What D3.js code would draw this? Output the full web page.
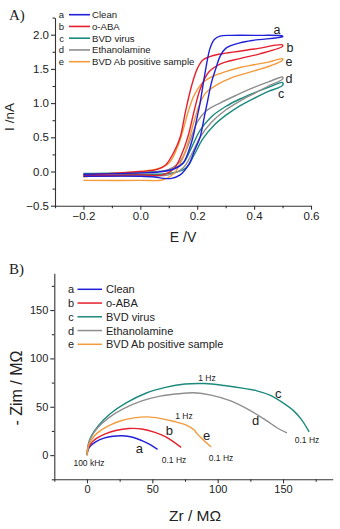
<!DOCTYPE html>
<html>
<head>
<meta charset="utf-8">
<script src="https://cdn.jsdelivr.net/npm/d3@7"></script>
<style>
  body { margin: 0; background: #fff; }
  svg { display: block; font-family: "Liberation Sans", Arial, sans-serif; }
</style>
</head>
<body>
<div class="container"></div>
<script>
// ---- data ----
const letters = ["a", "b", "c", "d", "e"]
const names = ["Clean", "o-ABA", "BVD virus", "Ethanolamine", "BVD Ab positive sample"]
const colours = ["#2020d8", "#e5202c", "#1b8a7c", "#8e8e8e", "#f29a3c"]

// CV, panel A: [E (V), I (nA)], forward branch then return branch
const cvA_fwd = [[-0.2,-0.04],[0,-0.02],[0.08,0],[0.12,0.04],[0.15,0.12],[0.17,0.3],[0.185,0.5],[0.2,0.8],[0.21,1.0],[0.23,1.5],[0.245,1.8],[0.26,1.93],[0.28,1.98],[0.32,1.99],[0.4,1.99],[0.5,1.98]]
const cvA_rev = [[0.5,1.97],[0.4,1.92],[0.35,1.88],[0.3,1.8],[0.28,1.68],[0.265,1.5],[0.25,1.3],[0.235,1.0],[0.225,0.8],[0.21,0.5],[0.19,0.3],[0.17,0.1],[0.14,-0.05],[0.11,-0.1],[0.08,-0.1],[0.05,-0.08],[0,-0.07],[-0.2,-0.07]]
const cvB_fwd = [[-0.2,-0.05],[0,0],[0.06,0.03],[0.09,0.1],[0.12,0.3],[0.14,0.5],[0.16,0.9],[0.18,1.25],[0.2,1.5],[0.22,1.63],[0.26,1.7],[0.3,1.73],[0.4,1.79],[0.5,1.85]]
const cvB_rev = [[0.5,1.83],[0.42,1.72],[0.35,1.65],[0.28,1.57],[0.24,1.45],[0.21,1.2],[0.19,0.9],[0.17,0.55],[0.15,0.3],[0.12,0.05],[0.08,-0.05],[0,-0.05],[-0.2,-0.07]]
const cvC_fwd = [[-0.2,-0.03],[0,-0.01],[0.1,0.02],[0.15,0.12],[0.18,0.35],[0.21,0.6],[0.25,0.8],[0.3,0.95],[0.35,1.06],[0.4,1.15],[0.45,1.23],[0.5,1.3]]
const cvC_rev = [[0.5,1.26],[0.45,1.17],[0.4,1.07],[0.35,0.96],[0.3,0.82],[0.26,0.68],[0.22,0.48],[0.19,0.25],[0.16,0.05],[0.1,-0.03],[0,-0.04],[-0.2,-0.05]]
const cvD_fwd = [[-0.2,-0.05],[0,-0.02],[0.1,0.03],[0.14,0.15],[0.17,0.4],[0.2,0.72],[0.23,0.88],[0.28,1.0],[0.34,1.12],[0.4,1.23],[0.45,1.31],[0.5,1.38]]
const cvD_rev = [[0.5,1.35],[0.45,1.25],[0.4,1.14],[0.35,1.03],[0.3,0.9],[0.25,0.72],[0.21,0.5],[0.18,0.25],[0.15,0.05],[0.1,-0.05],[0,-0.06],[-0.2,-0.07]]
const cvE_fwd = [[-0.2,-0.08],[-0.1,-0.03],[0,0],[0.06,0.04],[0.1,0.12],[0.13,0.35],[0.15,0.6],[0.17,0.9],[0.19,1.12],[0.22,1.3],[0.26,1.4],[0.3,1.46],[0.35,1.52],[0.4,1.56],[0.45,1.6],[0.5,1.65]]
const cvE_rev = [[0.5,1.63],[0.46,1.55],[0.4,1.47],[0.32,1.37],[0.27,1.27],[0.23,1.15],[0.21,1.0],[0.19,0.75],[0.17,0.45],[0.15,0.2],[0.12,-0.02],[0.08,-0.12],[0,-0.13],[-0.2,-0.13]]

// Nyquist, panel B: [Zr, -Zim] in MOhm
const nyA = [[0,0],[1,6],[3,10],[7,14],[13,17.5],[20,19.5],[27,20],[35,18.5],[42,15],[48,11],[54,6]]
const nyB = [[0,0],[1,7],[3,12],[7,17],[14,22],[22,25.5],[32,27.5],[42,27],[52,23.5],[60,19],[66,14],[72,8]]
const nyC = [[0,0],[1,11],[3,19],[9,31],[18,43],[30,54],[45,64],[60,70],[75,73.5],[90,74],[105,72],[120,69],[130,66.5],[140,62],[150,54],[158,46],[164,37],[170,24]]
const nyD = [[0,0],[1,10],[3,18],[8,28],[16,38],[28,48],[42,56],[56,61],[70,63.5],[82,64.5],[95,62],[110,56],[125,46],[137,36],[147,27],[153,23]]
const nyE = [[0,0],[1,9],[3,15],[8,23],[16,30],[26,35.5],[36,38.5],[46,39.5],[56,38],[66,35],[76,31],[82,26],[84,22.5],[88,17],[92,12],[95,8.5]]

const cvTicksX = [-0.2, 0.0, 0.2, 0.4, 0.6]
const cvTicksY = [-0.5, 0.0, 0.5, 1.0, 1.5, 2.0]
const nyTicksX = [0, 50, 100, 150]
const nyTicksY = [0, 50, 100, 150]

const wd = 340, ht = 529

const svg = d3.select(".container").append("svg")
  .attr("width", wd)
  .attr("height", ht)

// ---------- panel A ----------
const xA = d3.scaleLinear().domain([-0.3, 0.6]).range([55, 311])
const yA = d3.scaleLinear().domain([-0.5, 2.25]).range([205.7, 17.6])

function drawAxes(x, y, ticksX, ticksY, minorX, minorY, fmtX, fmtY, fs) {
  const gx = svg.append("g").attr("transform", "translate(0," + y.range()[0] + ")")
  gx.call(d3.axisBottom(x).tickValues(ticksX).tickFormat(fmtX).tickSize(4).tickPadding(2).tickSizeOuter(0))
  gx.append("g").call(d3.axisBottom(x).tickValues(minorX).tickFormat("").tickSize(2.5).tickSizeOuter(0))
    .select(".domain").remove()
  const gy = svg.append("g").attr("transform", "translate(" + x.range()[0] + ",0)")
  gy.call(d3.axisLeft(y).tickValues(ticksY).tickFormat(fmtY).tickSize(4).tickPadding(2).tickSizeOuter(0))
  gy.append("g").call(d3.axisLeft(y).tickValues(minorY).tickFormat("").tickSize(2.5).tickSizeOuter(0))
    .select(".domain").remove()
  gx.selectAll(".tick text").attr("font-size", fs)
  gy.selectAll(".tick text").attr("font-size", fs)
  svg.selectAll(".tick text").attr("fill", "#222")
    .attr("font-family", "Liberation Sans, Arial, sans-serif")
  svg.selectAll(".domain, .tick line").attr("stroke", "#333").attr("stroke-width", 1.1)
}

drawAxes(xA, yA, cvTicksX, cvTicksY,
  [-0.3, -0.1, 0.1, 0.3, 0.5], [-0.25, 0.25, 0.75, 1.25, 1.75, 2.25],
  d3.format(".1f"), d3.format(".1f"), 11.5)

const lineA = d3.line()
  .x((d) => xA(d[0]))
  .y((d) => yA(d[1]))
  .curve(d3.curveCatmullRom.alpha(0.5))

const cvs = [cvA_fwd.concat(cvA_rev), cvB_fwd.concat(cvB_rev), cvC_fwd.concat(cvC_rev),
             cvD_fwd.concat(cvD_rev), cvE_fwd.concat(cvE_rev)]
// draw in order c, d, e, b, a so blue is on top like the source
const orderA = [2, 3, 4, 1, 0]
orderA.forEach((i) => {
  svg.append("path")
    .attr("d", lineA(cvs[i]))
    .attr("fill", "none")
    .attr("stroke", colours[i])
    .attr("stroke-width", 1.4)
})

const labA = [[277, 34], [290, 52], [281, 98], [289, 83], [289, 66]]
letters.forEach((l, i) => {
  svg.append("text").attr("x", labA[i][0]).attr("y", labA[i][1])
    .attr("text-anchor", "middle").attr("font-size", 12.5).attr("fill", "#222").text(l)
})

// legend A
letters.forEach((l, i) => {
  const yy = 14.7 + i * 11.75
  svg.append("text").attr("x", 61.5).attr("y", yy + 3.5).attr("text-anchor", "middle")
    .attr("font-size", 9.5).attr("fill", "#222").text(l)
  svg.append("line").attr("x1", 69).attr("x2", 90).attr("y1", yy).attr("y2", yy)
    .attr("stroke", colours[i]).attr("stroke-width", 1.6)
  svg.append("text").attr("x", 92).attr("y", yy + 3.5)
    .attr("font-size", 9.6).attr("fill", "#222").text(names[i])
})

svg.append("text").attr("x", 9).attr("y", 20).attr("font-family", "Liberation Serif, serif")
  .attr("font-size", 15).attr("fill", "#222").text("A)")
svg.append("text").attr("transform", "translate(14,117) rotate(-90)")
  .attr("text-anchor", "middle").attr("font-size", 13.5).attr("fill", "#222").text("I /nA")
svg.append("text").attr("x", 183).attr("y", 242)
  .attr("text-anchor", "middle").attr("font-size", 14).attr("fill", "#222").text("E /V")

// ---------- panel B ----------
const xB = d3.scaleLinear().domain([-25, 188]).range([54.3, 332.7])
const yB = d3.scaleLinear().domain([-25, 188]).range([479.3, 273.3])

drawAxes(xB, yB, nyTicksX, nyTicksY,
  [-25, 25, 75, 125, 175], [-25, 25, 75, 125, 175],
  d3.format("d"), d3.format("d"), 11)

const lineB = d3.line()
  .x((d) => xB(d[0]))
  .y((d) => yB(d[1]))
  .curve(d3.curveCatmullRom.alpha(0.5))

const nys = [nyA, nyB, nyC, nyD, nyE]
nys.forEach((d, i) => {
  svg.append("path")
    .attr("d", lineB(d))
    .attr("fill", "none")
    .attr("stroke", colours[i])
    .attr("stroke-width", 1.4)
})

// legend B
letters.forEach((l, i) => {
  const yy = 289.3 + i * 13.75
  svg.append("text").attr("x", 71).attr("y", yy + 4).attr("text-anchor", "middle")
    .attr("font-size", 11).attr("fill", "#222").text(l)
  svg.append("line").attr("x1", 77.5).attr("x2", 102).attr("y1", yy).attr("y2", yy)
    .attr("stroke", colours[i]).attr("stroke-width", 1.5)
  svg.append("text").attr("x", 106).attr("y", yy + 4)
    .attr("font-size", 11).attr("fill", "#222").text(names[i])
})

// curve letters and frequency notes
const labB = [[139.3, 453], [169.3, 435], [278.3, 398], [255.7, 425], [206.7, 439.5]]
letters.forEach((l, i) => {
  svg.append("text").attr("x", labB[i][0]).attr("y", labB[i][1])
    .attr("text-anchor", "middle").attr("font-size", 13).attr("fill", "#222").text(l)
})
const notes = [["1 Hz", 207, 381], ["1 Hz", 184, 419], ["100 kHz", 89, 466],
               ["0.1 Hz", 174, 463], ["0.1 Hz", 221, 461], ["0.1 Hz", 307, 443]]
notes.forEach((n) => {
  svg.append("text").attr("x", n[1]).attr("y", n[2])
    .attr("text-anchor", "middle").attr("font-size", 8.5).attr("fill", "#222").text(n[0])
})

svg.append("text").attr("x", 9).attr("y", 274).attr("font-family", "Liberation Serif, serif")
  .attr("font-size", 15).attr("fill", "#222").text("B)")
svg.append("text").attr("transform", "translate(22,388) rotate(-90)")
  .attr("text-anchor", "middle").attr("font-size", 16).attr("fill", "#222").text("- Zim / M\u03A9")
svg.append("text").attr("x", 195).attr("y", 521)
  .attr("text-anchor", "middle").attr("font-size", 15.5).attr("fill", "#222").text("Zr / M\u03A9")
</script>
</body>
</html>
